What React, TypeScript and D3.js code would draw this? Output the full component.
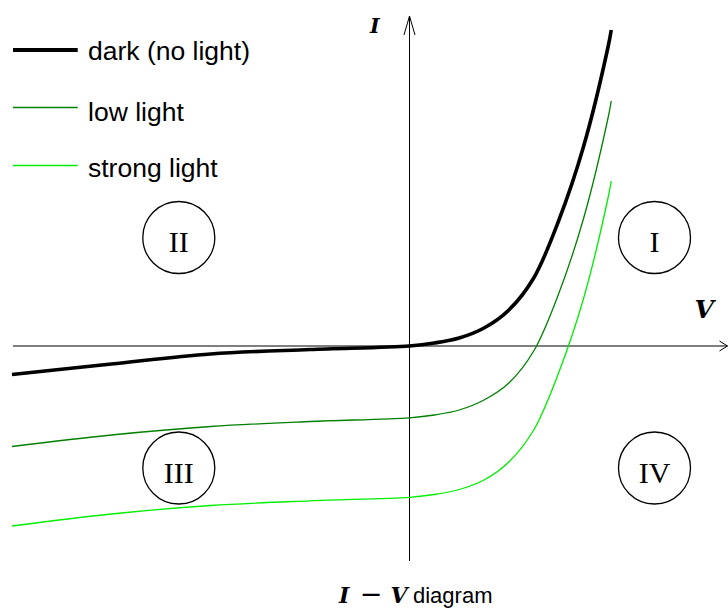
import React from 'react';
import * as d3 from 'd3';

// Bias voltage samples (V) and the current read at each one (arbitrary units)
const voltage = [-0.8, -0.6, -0.4, -0.2, 0, 0.05, 0.1, 0.15, 0.2, 0.25, 0.3, 0.35, 0.4, 0.406];
const darkCurrent = [-0.285, -0.18, -0.08, -0.035, 0, 0.03, 0.08, 0.18, 0.36, 0.68, 1.25, 1.99, 3.0, 3.16];
const lowLightCurrent = [-1.005, -0.89, -0.805, -0.755, -0.718, -0.69, -0.64, -0.54, -0.37, -0.05, 0.52, 1.27, 2.29, 2.45];
const strongLightCurrent = [-1.8, -1.68, -1.595, -1.548, -1.513, -1.485, -1.435, -1.34, -1.16, -0.84, -0.27, 0.47, 1.49, 1.65];

const seriesNames = ['dark (no light)', 'low light', 'strong light'];
const seriesColors = ['#000000', '#008000', '#00ee00'];
const seriesWidths = [3.6, 1.3, 1.3];
const quadrantLabels = ['I', 'II', 'III', 'IV'];

const W = 728;
const H = 608;

export default function App() {
  const x = d3.scaleLinear().domain([-0.8, 0.4]).range([12, 608.25]);
  const y = d3.scaleLinear().domain([0, 1]).range([346, 246]);

  const series = [darkCurrent, lowLightCurrent, strongLightCurrent];
  const line = d3
    .line<[number, number]>()
    .x((d) => x(d[0]))
    .y((d) => y(d[1]))
    .curve(d3.curveCatmullRom.alpha(0.5));

  const x0 = x(0);
  const y0 = y(0);

  // quadrant badge centres: right/left of the I axis, above/below the V axis
  const qx = { right: 654.5, left: 178.8 };
  const qy = { top: 237.5, bottom: 468 };
  const quadrants = [
    { label: quadrantLabels[0], cx: qx.right, cy: qy.top },
    { label: quadrantLabels[1], cx: qx.left, cy: qy.top },
    { label: quadrantLabels[2], cx: qx.left, cy: qy.bottom },
    { label: quadrantLabels[3], cx: qx.right, cy: qy.bottom },
  ];

  const legendY = [50, 107.5, 165.5];
  const legendTextY = [59.5, 120.5, 177];

  const romanFont = '"Liberation Serif", "DejaVu Serif", serif';
  const mathFont = '"DejaVu Serif", "Liberation Serif", serif';
  const sansFont = '"Liberation Sans", Arial, sans-serif';

  return (
    <svg
      width={W}
      height={H}
      viewBox={`0 0 ${W} ${H}`}
      style={{ position: 'absolute', left: 0, top: 0, background: '#fff' }}
    >
      <rect x={0} y={0} width={W} height={H} fill="#fff" />

      {/* axes */}
      <line x1={13} x2={727.5} y1={y0} y2={y0} stroke="#000" strokeWidth={1.1} />
      <polyline
        points={`719.5,341 727.5,${y0} 719.5,351`}
        fill="none"
        stroke="#000"
        strokeWidth={1}
      />
      <line x1={x0} x2={x0} y1={561} y2={16} stroke="#000" strokeWidth={1} />
      <polyline
        points={`${x0 - 5.5},35 ${x0},16 ${x0 + 5.5},35`}
        fill="none"
        stroke="#000"
        strokeWidth={1}
      />

      {/* axis labels */}
      <text x={370} y={33.3} fontFamily={mathFont} fontWeight="bold" fontStyle="italic" fontSize={20.5}>
        I
      </text>
      <text x={694.5} y={317.7} fontFamily={mathFont} fontWeight="bold" fontStyle="italic" fontSize={25}>
        V
      </text>

      {/* curves */}
      {series.map((vals, i) => (
        <path
          key={seriesNames[i]}
          d={line(voltage.map((v, j) => [v, vals[j]] as [number, number])) || ''}
          fill="none"
          stroke={seriesColors[i]}
          strokeWidth={seriesWidths[i]}
        />
      ))}

      {/* quadrant badges */}
      {quadrants.map((q) => (
        <g key={q.label}>
          <circle cx={q.cx} cy={q.cy} r={36} fill="none" stroke="#000" strokeWidth={1.3} />
          <text
            x={q.cx}
            y={q.cy + 14.8}
            textAnchor="middle"
            fontFamily={romanFont}
            fontSize={30}
          >
            {q.label}
          </text>
        </g>
      ))}

      {/* legend */}
      {seriesNames.map((name, i) => (
        <g key={name}>
          <line
            x1={13}
            x2={77.7}
            y1={legendY[i]}
            y2={legendY[i]}
            stroke={seriesColors[i]}
            strokeWidth={i === 0 ? 4 : 1.3}
          />
          <text x={88} y={legendTextY[i]} fontFamily={sansFont} fontSize={26.5}>
            {name}
          </text>
        </g>
      ))}

      {/* caption */}
      <text x={339} y={602.5} fontFamily={mathFont} fontWeight="bold" fontStyle="italic" fontSize={22}>
        I
      </text>
      <text x={371} y={602.5} textAnchor="middle" fontFamily='"DejaVu Sans", sans-serif' fontSize={27}>
        −
      </text>
      <text x={407.5} y={602.5} textAnchor="end" fontFamily={mathFont} fontWeight="bold" fontStyle="italic" fontSize={22}>
        V
      </text>
      <text x={413} y={602.5} fontFamily={sansFont} fontSize={22}>
        diagram
      </text>
    </svg>
  );
}
